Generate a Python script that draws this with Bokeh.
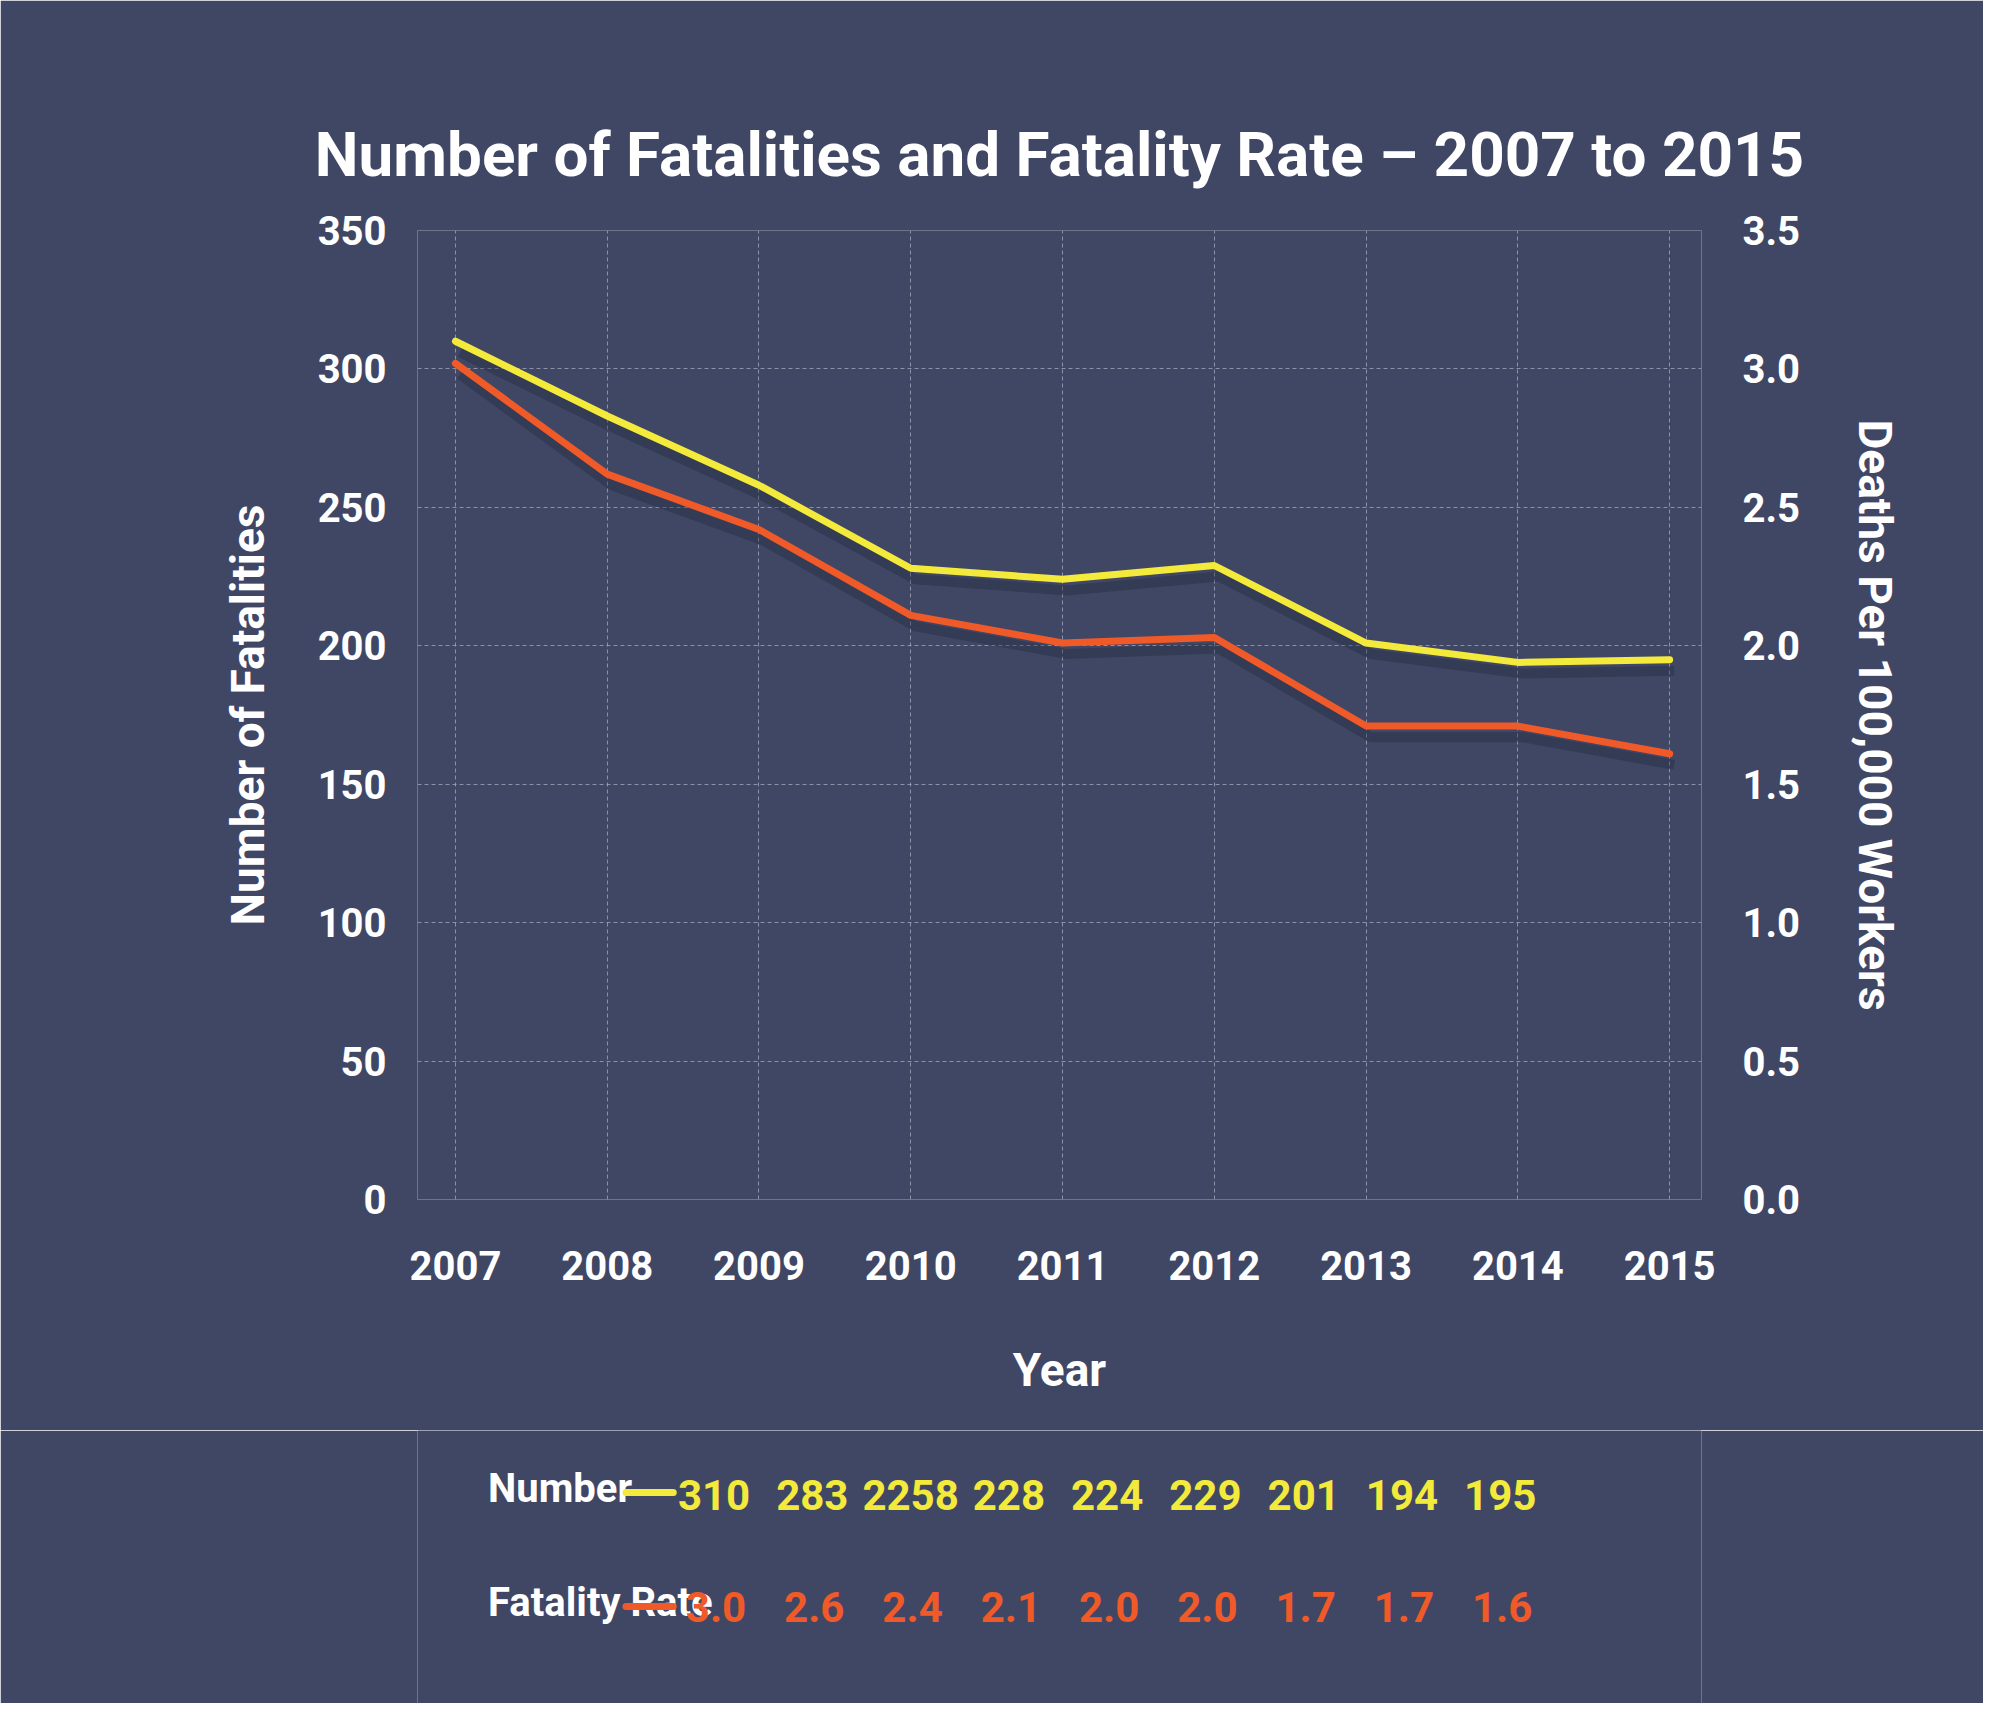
from bokeh.plotting import figure
from bokeh.models import Range1d, LinearAxis, FixedTicker, NumeralTickFormatter
from bokeh.layouts import column
from bokeh.embed import file_html
from bokeh.resources import INLINE

years = [2007, 2008, 2009, 2010, 2011, 2012, 2013, 2014, 2015]
fatalities = [310, 283, 258, 228, 224, 229, 201, 194, 195]
rate = [3.02, 2.62, 2.42, 2.11, 2.01, 2.03, 1.71, 1.71, 1.61]
number_labels = ["310", "283", "2258", "228", "224", "229", "201", "194", "195"]
rate_labels = ["3.0", "2.6", "2.4", "2.1", "2.0", "2.0", "1.7", "1.7", "1.6"]
row_names = ["Number", "Fatality Rate"]

FONT = "Roboto"
BG = "#404765"
YEL = "#f4ea3c"
ORG = "#f05a28"
W = 1983
L, R, T = 417, 282, 230
PH = 1430
TH = 1703 - PH
X0, X1 = 2006.75, 2015.21
PPY = (W - L - R) / (X1 - X0)

p = figure(width=W, height=PH, output_backend="svg", toolbar_location=None,
           x_range=Range1d(X0, X1), y_range=Range1d(0, 350),
           min_border_left=L, min_border_right=R, min_border_top=T, min_border_bottom=PH - 1199)
p.background_fill_color = BG
p.border_fill_color = BG
p.outline_line_color = None
p.extra_y_ranges = {"rate": Range1d(0, 3.5)}

p.title.text = "Number of Fatalities and Fatality Rate \u2013 2007 to 2015"
p.title.align = "center"
p.title.text_color = "white"
p.title.text_font = FONT
p.title.text_font_style = "bold"
p.title.text_font_size = "62px"
p.title.offset = 0
p.title.standoff = 80

def style_axis(ax):
    ax.axis_line_color = None
    ax.major_tick_line_color = None
    ax.minor_tick_line_color = None
    ax.major_label_text_color = "white"
    ax.major_label_text_font = FONT
    ax.major_label_text_font_style = "bold"
    ax.major_label_text_font_size = "40px"
    ax.axis_label_text_color = "white"
    ax.axis_label_text_font = FONT
    ax.axis_label_text_font_style = "bold"
    ax.axis_label_text_font_size = "46px"

style_axis(p.xaxis[0]); style_axis(p.yaxis[0])
p.xaxis.ticker = FixedTicker(ticks=years)
p.xaxis.major_label_standoff = 45
p.xaxis.axis_label = "Year"
p.xaxis.axis_label_standoff = 60
p.yaxis.ticker = FixedTicker(ticks=list(range(0, 351, 50)))
p.yaxis.major_label_standoff = 25
p.yaxis.axis_label = "Number of Fatalities"
p.yaxis.axis_label_standoff = 40

ra = LinearAxis(y_range_name="rate", ticker=FixedTicker(ticks=[i * 0.5 for i in range(8)]),
                formatter=NumeralTickFormatter(format="0.0"))
style_axis(ra)
ra.major_label_standoff = 35
ra.axis_label = "Deaths Per 100,000 Workers"
ra.axis_label_standoff = 45
p.add_layout(ra, "right")

for g in [p.xgrid[0], p.ygrid[0]]:
    g.grid_line_color = "#a0a4b8"
    g.grid_line_dash = "4 3"
    g.grid_line_width = 1
    g.grid_line_alpha = 0.8
p.xgrid.ticker = FixedTicker(ticks=years)
p.ygrid.ticker = FixedTicker(ticks=list(range(0, 351, 50)))

p.line([y + 0.03 for y in years], [v - 4 for v in fatalities], line_color="#20243a", line_width=10, line_alpha=0.35)
p.line([y + 0.03 for y in years], [v - 0.04 for v in rate], y_range_name="rate", line_color="#20243a", line_width=10, line_alpha=0.35)
p.line(years, rate, y_range_name="rate", line_color=ORG, line_width=7, line_cap="round", line_join="round")
p.line(years, fatalities, line_color=YEL, line_width=7, line_cap="round", line_join="round")

# table figure below, same pixel-per-year scale, full width frame
tx0 = X0 - L / PPY
tx1 = X1 + R / PPY
t = figure(width=W, height=TH, output_backend="svg", toolbar_location=None,
           x_range=Range1d(tx0, tx1), y_range=Range1d(0, TH),
           min_border_left=0, min_border_right=0, min_border_top=0, min_border_bottom=0)
t.background_fill_color = BG
t.border_fill_color = BG
t.outline_line_color = None
t.axis.visible = False
t.grid.visible = False

rows_y = [TH - 58, TH - 172]
lab_x = tx0 + 109 / PPY
t.text([lab_x, lab_x], rows_y, text=row_names, text_color="white", text_font_size="40px",
       text_font_style="bold", text_baseline="middle", text_font={"value": FONT})
sw0, sw1 = tx0 + 322 / PPY, tx0 + 395 / PPY
for yy, c in zip(rows_y, [YEL, ORG]):
    t.line([sw0, sw1], [yy - 4, yy - 4], line_color=c, line_width=7, line_cap="round")
t.text([y + 0.02 for y in years], [rows_y[0] - 6] * len(years), text=number_labels, text_color=YEL,
       text_font_size="42px", text_font_style="bold", text_align="center", text_baseline="middle",
       text_font={"value": FONT})
t.text([y + 0.04 for y in years], [rows_y[1] - 4] * len(years), text=rate_labels, text_color=ORG,
       text_font_size="42px", text_font_style="bold", text_align="center", text_baseline="middle",
       text_font={"value": FONT})

lay = column(p, t, spacing=0)
open("out.html", "w").write(file_html(lay, INLINE))
